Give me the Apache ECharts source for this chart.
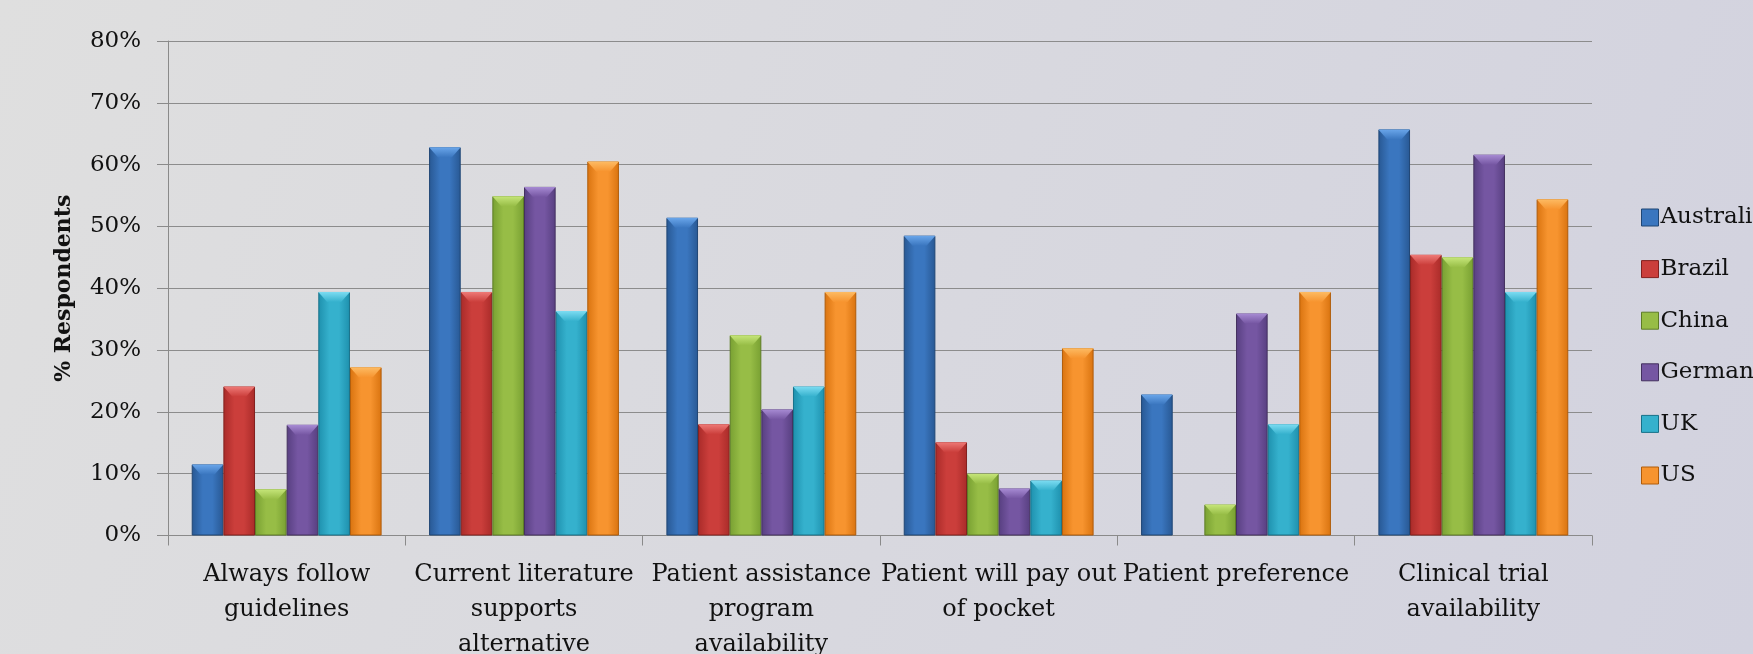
<!DOCTYPE html>
<html>
<head>
<meta charset="utf-8">
<script src="https://cdn.jsdelivr.net/npm/echarts@6/dist/echarts.min.js"></script>
<style>
  html, body { margin: 0; padding: 0; }
  #chart { width: 1753px; height: 654px; }
</style>
</head>
<body>
<div id="chart"></div>
<script>
// Reasons for treatment choice, % of respondents by country
const categories = [
  'Always follow\nguidelines',
  'Current literature\nsupports\nalternative',
  'Patient assistance\nprogram\navailability',
  'Patient will pay out\nof pocket',
  'Patient preference',
  'Clinical trial\navailability'
];
const countries = ['Australia', 'Brazil', 'China', 'Germany', 'UK', 'US'];

const australia = [11.5, 62.8, 51.4, 48.5, 22.8, 65.7];
const brazil    = [24.1, 39.4, 18.0, 15.1, 0,    45.4];
const china     = [7.5,  54.9, 32.4, 10.0, 5.0,  45.0];
const germany   = [17.9, 56.4, 20.4, 7.6,  35.9, 61.6];
const uk        = [39.4, 36.3, 24.1, 8.9,  18.0, 39.4];
const us        = [27.2, 60.5, 39.4, 30.3, 39.4, 54.4];

const yTicks = { min: 0, max: 80, interval: 10 };

// edge / centre / cap / border shades per country
const palette = [
  { edge: '#285893', mid: '#3a76bf', cap: '#6aa6ea', border: '#1f4675' },
  { edge: '#a92b29', mid: '#cb3e3b', cap: '#ee7a77', border: '#83201e' },
  { edge: '#78a032', mid: '#97bd46', cap: '#c6e67a', border: '#5e7d26' },
  { edge: '#573f80', mid: '#7556a2', cap: '#a78bd3', border: '#44315f' },
  { edge: '#1e90ad', mid: '#35b1cd', cap: '#7cdcf2', border: '#177189' },
  { edge: '#d9730f', mid: '#f7942f', cap: '#fdbb63', border: '#b05c0a' }
];
const values = [australia, brazil, china, germany, uk, us];

const FONT = '"DejaVu Serif", "Liberation Serif", serif';
const chart = echarts.init(document.getElementById('chart'));

function bodyFill(p) {
  return new echarts.graphic.LinearGradient(0, 0, 1, 0, [
    { offset: 0, color: p.edge },
    { offset: 0.35, color: p.mid },
    { offset: 0.65, color: p.mid },
    { offset: 1, color: p.edge }
  ]);
}

// zero answers draw no bar at all
const shown = arr => arr.map(v => (v > 0 ? v : '-'));

const barSeries = countries.map((name, i) => ({
  name: name,
  type: 'bar',
  data: shown(values[i]),
  barGap: '0%',
  barCategoryGap: '20%',
  itemStyle: {
    color: bodyFill(palette[i]),
    borderColor: palette[i].border,
    borderWidth: 1
  },
  silent: true
}));

// bevelled top face drawn at the end of each bar
const capSeries = countries.map((name, i) => ({
  name: name + ' top',
  type: 'pictorialBar',
  data: shown(values[i]),
  barGap: '0%',
  barCategoryGap: '20%',
  symbol: 'path://M0,0 L10,0 L7.2,10 L2.8,10 Z',
  symbolSize: ['100%', 10],
  symbolPosition: 'end',
  itemStyle: {
    color: new echarts.graphic.LinearGradient(0, 0, 0, 1, [
      { offset: 0, color: palette[i].cap },
      { offset: 1, color: palette[i].mid }
    ])
  },
  z: 3,
  silent: true
}));

chart.setOption({
  animation: false,
  backgroundColor: new echarts.graphic.LinearGradient(0, 0, 1, 1, [
    { offset: 0, color: '#dfdfdf' },
    { offset: 1, color: '#d2d2df' }
  ]),
  textStyle: { fontFamily: FONT },
  legend: {
    data: countries.map((n, i) => ({
      name: n,
      itemStyle: { color: palette[i].mid, borderColor: palette[i].border, borderWidth: 1 }
    })),
    orient: 'vertical',
    left: 1636,
    top: 201,
    itemWidth: 17,
    itemHeight: 17,
    itemGap: 28.6,
    icon: 'rect',
    textStyle: { fontFamily: FONT, fontSize: 23, color: '#111', padding: [0, 0, 0, -3] }
  },
  grid: { left: 168, right: 161, top: 41, bottom: 118.5, outerBoundsMode: 'none', containLabel: false },
  xAxis: {
    type: 'category',
    data: categories,
    axisLine: { lineStyle: { color: '#8a8a8a', width: 1 } },
    axisTick: { show: true, length: 10, lineStyle: { color: '#8a8a8a' } },
    axisLabel: {
      interval: 0,
      margin: 22,
      fontFamily: FONT,
      fontSize: 24,
      lineHeight: 35,
      color: '#111'
    }
  },
  yAxis: {
    type: 'value',
    min: yTicks.min,
    max: yTicks.max,
    interval: yTicks.interval,
    name: '% Respondents',
    nameLocation: 'middle',
    nameRotate: 90,
    nameGap: 93,
    nameTextStyle: {
      fontFamily: FONT,
      fontSize: 22,
      fontWeight: 'bold',
      color: '#111'
    },
    axisLine: { show: true, lineStyle: { color: '#8a8a8a', width: 1 } },
    axisTick: { show: true, length: 11, lineStyle: { color: '#8a8a8a' } },
    axisLabel: {
      formatter: '{value}%',
      margin: 27,
      fontFamily: FONT,
      fontSize: 23,
      color: '#111'
    },
    splitLine: { lineStyle: { color: '#8c8c8c', width: 1 } }
  },
  series: barSeries.concat(capSeries)
});
</script>
</body>
</html>
